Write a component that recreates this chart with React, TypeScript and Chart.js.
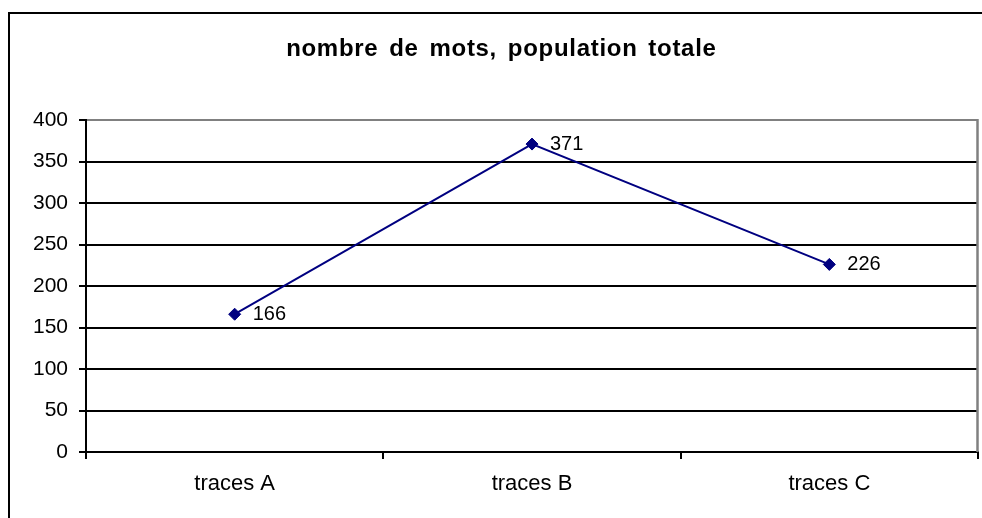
import React, { useEffect, useRef } from "react";
import { Chart, registerables } from "chart.js";

Chart.register(...registerables);

const TITLE = "nombre de mots, population totale";
const categories = ["traces A", "traces B", "traces C"];
const values = [166, 371, 226];
const yMin = 0;
const yMax = 400;
const yStep = 50;

const FONT = "'Liberation Sans', Arial, sans-serif";

const framePlugin = {
  id: "frame",
  beforeDraw(chart: any) {
    const ctx = chart.ctx;
    ctx.save();
    ctx.fillStyle = "#ffffff";
    ctx.fillRect(0, 0, chart.width, chart.height);
    ctx.strokeStyle = "#000000";
    ctx.lineWidth = 2;
    ctx.beginPath();
    ctx.moveTo(9, chart.height + 10);
    ctx.lineTo(9, 13);
    ctx.lineTo(chart.width + 10, 13);
    ctx.stroke();
    // title
    ctx.font = `bold 24px ${FONT}`;
    ctx.fillStyle = "#000000";
    ctx.textAlign = "center";
    ctx.textBaseline = "alphabetic";
    const spacing = 0.7;
    try {
      (ctx as any).letterSpacing = `${spacing}px`;
      (ctx as any).wordSpacing = "3.5px";
    } catch (e) {}
    ctx.fillText(TITLE, 501 + spacing / 2, 56);
    ctx.restore();
  },
  afterDraw(chart: any) {
    const { ctx, chartArea } = chart;
    ctx.save();
    ctx.strokeStyle = "#808080";
    ctx.lineWidth = 2.5;
    ctx.beginPath();
    ctx.moveTo(chartArea.right - 0.5, chartArea.top - 1);
    ctx.lineTo(chartArea.right - 0.5, chartArea.bottom);
    ctx.stroke();
    ctx.restore();
  },
};

const labelPlugin = {
  id: "valueLabels",
  afterDatasetsDraw(chart: any) {
    const ctx = chart.ctx;
    const meta = chart.getDatasetMeta(0);
    ctx.save();
    ctx.font = `20px ${FONT}`;
    ctx.fillStyle = "#000000";
    ctx.textAlign = "left";
    ctx.textBaseline = "middle";
    meta.data.forEach((pt: any, i: number) => {
      ctx.fillText(String(values[i]), pt.x + 18, pt.y + 0.5);
    });
    ctx.restore();
  },
};

export default function App() {
  const ref = useRef<HTMLCanvasElement>(null);
  useEffect(() => {
    if (!ref.current) return;
    Chart.defaults.font.family = FONT;
    Chart.defaults.color = "#000000";
    const chart = new Chart(ref.current, {
      type: "line",
      data: {
        labels: categories,
        datasets: [
          {
            data: values,
            borderColor: "#000080",
            borderWidth: 2,
            backgroundColor: "#000080",
            pointStyle: "rectRot",
            pointRadius: 6,
            pointBorderWidth: 1,
            pointBackgroundColor: "#000080",
            pointBorderColor: "#000080",
            tension: 0,
          },
        ],
      },
      options: {
        responsive: false,
        animation: false,
        layout: { autoPadding: false, padding: { left: 24, right: 4, top: 120, bottom: 0 } },
        plugins: {
          legend: { display: false },
          tooltip: { enabled: false },
          title: { display: false },
        },
        scales: {
          x: {
            type: "category",
            offset: true,
            grid: {
              offset: true,
              drawOnChartArea: false,
              drawTicks: true,
              tickLength: 7,
              tickColor: "#000000",
              tickWidth: 2,
              color: "#000000",
              lineWidth: 2,
            },
            border: { display: true, color: "#000000", width: 2 },
            ticks: { font: { size: 22, family: FONT }, color: "#000000", padding: 12, maxRotation: 0 },
            afterFit(scale: any) {
              scale.height = 66;
            },
          },
          y: {
            min: yMin,
            max: yMax,
            ticks: { stepSize: yStep, font: { size: 21, family: FONT }, color: "#000000", padding: 11 },
            grid: {
              color: (c: any) => (c.tick && c.tick.value === yMax ? "#808080" : "#000000"),
              lineWidth: 2,
              tickLength: 7,
              tickColor: "#000000",
              tickWidth: 2,
            },
            border: { display: true, color: "#000000", width: 2 },
            afterFit(scale: any) {
              scale.width = 62;
            },
          },
        },
      },
      plugins: [framePlugin, labelPlugin],
    });
    return () => chart.destroy();
  }, []);
  return (
    <div style={{ position: "absolute", left: 0, top: 0, width: 982, height: 518 }}>
      <canvas ref={ref} width={982} height={518} style={{ display: "block" }} />
    </div>
  );
}
